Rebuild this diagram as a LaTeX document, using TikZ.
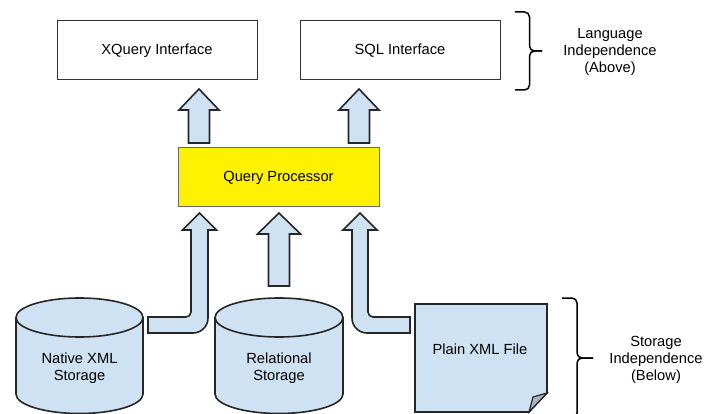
\documentclass[tikz,border=0pt]{standalone}
\usepackage{fontspec}
\setmainfont{Liberation Sans}
\definecolor{lblue}{HTML}{CFE2F3}
\definecolor{foldc}{HTML}{A7B5C2}
\begin{document}
\begin{tikzpicture}[x=1pt,y=-1pt,
  font=\fontsize{14.7}{17}\selectfont,
  ibox/.style={draw=black!80, line width=1pt, minimum width=200pt, minimum height=59pt, inner sep=0pt},
  qpbox/.style={draw=black!60, fill=yellow, line width=1pt, minimum width=201pt, minimum height=59pt, inner sep=0pt},
  blk/.style={draw=black!85, fill=lblue, line width=1.6pt, line join=miter},
  brc/.style={draw=black, line width=1.5pt, rounded corners=5pt},
  lbl/.style={align=center, inner sep=0pt}]
\useasboundingbox (0,0) rectangle (704,414);

% interface boxes
\node[ibox] (xq) at (157,50.5) {XQuery Interface};
\node[ibox] (sql) at (400,50.5) {SQL Interface};

% query processor
\node[qpbox] (qp) at (278.5,177.5) {Query Processor};

% upper arrows
\draw[blk] (188.5,143) -- (188.5,110) -- (179,110) -- (199,89) -- (219,110) -- (209.5,110) -- (209.5,143) -- cycle;
\draw[blk] (348.5,143) -- (348.5,110) -- (339,110) -- (359,89) -- (379,110) -- (369.5,110) -- (369.5,143) -- cycle;

% lower middle arrow
\draw[blk] (268.5,286) -- (268.5,234) -- (257.5,234) -- (279,213) -- (300.5,234) -- (289.5,234) -- (289.5,286) -- cycle;

% lower left bent arrow
\draw[blk] (148,317) -- (186,317) arc[start angle=90,end angle=0,radius=5] -- (191,230) -- (182.5,230) -- (199.5,213) -- (216.5,230) -- (208,230) -- (208,318) arc[start angle=0,end angle=90,radius=15] -- (148,333) -- cycle;

% lower right bent arrow
\draw[blk] (410,317) -- (373,317) arc[start angle=90,end angle=180,radius=5] -- (368,230) -- (377,230) -- (360,213) -- (343,230) -- (352,230) -- (352,318) arc[start angle=180,end angle=90,radius=15] -- (410,333) -- cycle;

% native xml storage cylinder
\draw[blk] (16,317.5) -- (16,394) arc[start angle=180,end angle=0,x radius=63.5,y radius=19.5] -- (143,317.5) arc[start angle=0,end angle=-180,x radius=63.5,y radius=19.5] -- cycle;
\draw[blk,fill=none] (16,317.5) arc[start angle=180,end angle=0,x radius=63.5,y radius=19.5];
\node[lbl] (nat) at (79.5,368) {Native XML\\Storage};

% relational storage cylinder
\draw[blk] (215,317.5) -- (215,394) arc[start angle=180,end angle=0,x radius=64,y radius=19.5] -- (343,317.5) arc[start angle=0,end angle=-180,x radius=64,y radius=19.5] -- cycle;
\draw[blk,fill=none] (215,317.5) arc[start angle=180,end angle=0,x radius=64,y radius=19.5];
\node[lbl] (rel) at (279,368) {Relational\\Storage};

% plain xml file
\draw[blk] (415,304) -- (547,304) -- (547,393) -- (529,412) -- (415,412) -- cycle;
\draw[blk,fill=foldc,line width=1.2pt] (529,412) -- (533,397) -- (547,393) -- cycle;
\node[lbl] (xml) at (480,349) {Plain XML File};

% braces
\draw[brc] (515,12) -- (529.5,12) -- (529.5,51) -- (542,51);
\draw[brc] (515,90) -- (529.5,90) -- (529.5,51) -- (542,51);
\node[lbl] (lang) at (610,52) {Language\\Independence\\(Above)};

\draw[brc] (562,298) -- (577,298) -- (577,358) -- (593,358);
\draw[brc] (562,418) -- (577,418) -- (577,358) -- (593,358);
\node[lbl] (stor) at (656,360) {Storage\\Independence\\(Below)};
\end{tikzpicture}
\end{document}
